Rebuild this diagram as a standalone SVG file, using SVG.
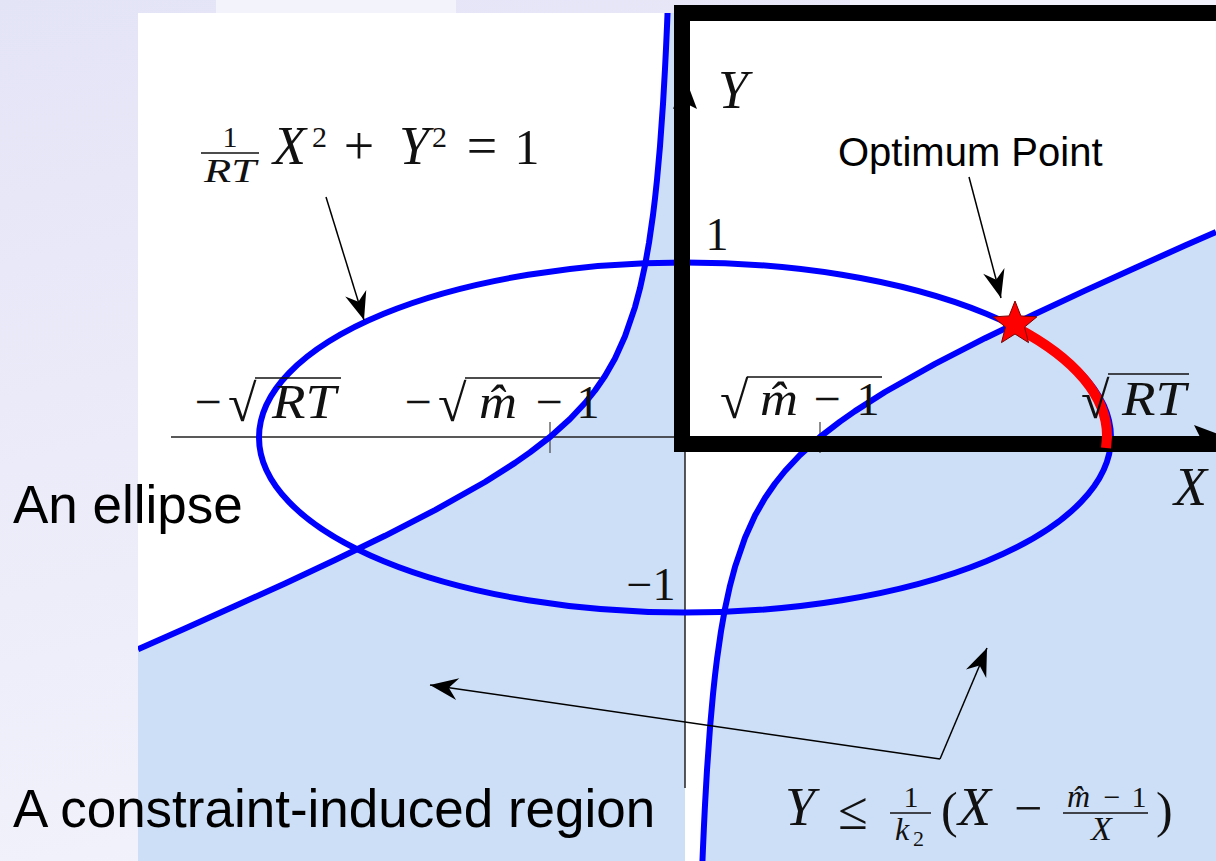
<svg xmlns="http://www.w3.org/2000/svg" width="1216" height="861" viewBox="0 0 1216 861">
<defs>
<linearGradient id="bg" x1="0" y1="0" x2="0.3" y2="1">
<stop offset="0" stop-color="#e4e4f7"/>
<stop offset="0.5" stop-color="#ebebf9"/>
<stop offset="1" stop-color="#f2f2fc"/>
</linearGradient>
<clipPath id="plot"><rect x="138" y="13" width="1078" height="848"/></clipPath>
<marker id="ah" markerUnits="userSpaceOnUse" viewBox="-30 -13 32 26" refX="0" refY="0" markerWidth="32" markerHeight="26" orient="auto">
<path d="M0,0 L-28,-11 L-19,0 L-28,11 Z" fill="#000"/>
</marker>
<marker id="axh" markerUnits="userSpaceOnUse" viewBox="-34 -14 36 28" refX="0" refY="0" markerWidth="36" markerHeight="28" orient="auto">
<path d="M0,0 L-32,-12 L-26,0 L-32,12 Z" fill="#000"/>
</marker>
</defs>
<style>
.m{font-family:"Liberation Serif","DejaVu Serif",serif;fill:#111}
.it{font-style:italic}
.sans{font-family:"Liberation Sans",Arial,sans-serif;fill:#000}
.curve{fill:none;stroke:#0000ff;stroke-width:6;stroke-linejoin:round}
.axis{stroke:#222;stroke-width:1.5;fill:none}
.tick{stroke:#444;stroke-width:1.2}
.bar{stroke:#111;stroke-width:1.5}
.conn{stroke:#000;stroke-width:1.5;fill:none;marker-end:url(#ah)}
.fill{fill:#cddff6}
</style>

<g id="background">
<rect x="0" y="0" width="1216" height="861" fill="url(#bg)"/>
<rect x="216" y="0" width="240" height="13" fill="#f3f3fc"/>
<rect x="850" y="0" width="366" height="13" fill="#f1f1fb"/>
<rect x="138" y="13" width="1078" height="848" fill="#ffffff"/>
</g>

<g id="region" clip-path="url(#plot)">
<path class="fill" d="M138,649.2 L185,628.4 L235,606.1 L285,583.4 L335,560 L385,535.8 L435,510.1 L485,482 L515,462.9 L530,452.4 L550,437 L570,419 L585,403 L595,390.5 L605,376 L615,358.4 L625,336.3 L635,307.1 L640,288.3 L645,265.4 L649,242.8 L653,215 L655,198.5 L657,179.7 L660,146.2 L663,104 L665,68.9 L666,48.7 L667,26.3 L667.6,11.6 L685,11.6 L685,862 L138,862 Z"/>
<path class="fill" d="M702.4,862.4 L703,847.7 L704,825.3 L705,805.1 L707,770 L710,727.8 L713,694.3 L715,675.5 L717,659 L721,631.2 L725,608.6 L730,585.7 L735,566.9 L745,537.7 L755,515.6 L765,498 L775,483.5 L785,471 L800,455 L820,437 L840,421.6 L855,411.1 L885,392 L935,363.9 L985,338.2 L1035,314 L1085,290.6 L1135,267.9 L1185,245.6 L1216,231.9 L1216,862 Z"/>
</g>

<g id="axes">
<line class="axis" x1="171" y1="437" x2="1226" y2="437" marker-end="url(#axh)"/>
<line class="axis" x1="685" y1="788" x2="685" y2="77" marker-end="url(#axh)"/>
<line class="tick" x1="550" y1="422" x2="550" y2="453"/>
<line class="tick" x1="820" y1="422" x2="820" y2="453"/>
<line class="tick" x1="669" y1="263" x2="702" y2="263"/>
<line class="tick" x1="669" y1="612" x2="702" y2="612"/>
</g>

<g id="ellipse">
<ellipse cx="685" cy="437.5" rx="426" ry="175" class="curve" stroke-width="6.5"/>
</g>

<g id="hyperbola" clip-path="url(#plot)">
<polyline class="curve" points="138,649.2 185,628.4 235,606.1 285,583.4 335,560 385,535.8 435,510.1 485,482 515,462.9 530,452.4 550,437 570,419 585,403 595,390.5 605,376 615,358.4 625,336.3 635,307.1 640,288.3 645,265.4 649,242.8 653,215 655,198.5 657,179.7 660,146.2 663,104 665,68.9 666,48.7 667,26.3 667.6,11.6"/>
<polyline class="curve" points="702.4,862.4 703,847.7 704,825.3 705,805.1 707,770 710,727.8 713,694.3 715,675.5 717,659 721,631.2 725,608.6 730,585.7 735,566.9 745,537.7 755,515.6 765,498 775,483.5 785,471 800,455 820,437 840,421.6 855,411.1 885,392 935,363.9 985,338.2 1035,314 1085,290.6 1135,267.9 1185,245.6 1216,231.9"/>
</g>

<g id="frame">
<rect x="682" y="13" width="560" height="431" fill="none" stroke="#000" stroke-width="16"/>
</g>

<g id="optimum-arc">
<path d="M1015,327 A426 175 0 0 1 1107,437 L1106,448" fill="none" stroke="#ff0000" stroke-width="10"/>
</g>

<g id="optimum-star">
<polygon points="1015,301 1020.88,315.91 1036.87,316.89 1024.51,327.09 1028.52,342.61 1015,334 1001.48,342.61 1005.49,327.09 993.13,316.89 1009.12,315.91" fill="#ff0000" stroke="#7a0000" stroke-width="1"/>
</g>

<g id="label-ellipse-eq">
<text class="m" x="230" y="147" font-size="30" text-anchor="middle">1</text>
<line class="bar" x1="201" y1="153" x2="259" y2="153"/>
<text class="m it" x="204" y="182" font-size="34" textLength="52" lengthAdjust="spacingAndGlyphs">RT</text>
<text class="m it" x="273" y="164" font-size="54">X</text>
<text class="m" x="312" y="147" font-size="30">2</text>
<text class="m" x="359" y="164" font-size="54" text-anchor="middle">+</text>
<text class="m it" x="399" y="164" font-size="54">Y</text>
<text class="m" x="432" y="147" font-size="30">2</text>
<text class="m" x="482" y="164" font-size="54" text-anchor="middle">=</text>
<text class="m" x="527" y="164" font-size="50" text-anchor="middle">1</text>
</g>

<g id="tick-neg-sqrtRT">
<text class="m" x="208" y="418" font-size="48" text-anchor="middle">−</text>
<text class="m" x="228" y="421" font-size="52">√</text>
<line class="bar" x1="255" y1="378" x2="341" y2="378"/>
<text class="m it" x="272" y="418" font-size="48" textLength="64" lengthAdjust="spacingAndGlyphs">RT</text>
</g>

<g id="tick-neg-sqrtm">
<text class="m" x="418" y="418" font-size="48" text-anchor="middle">−</text>
<text class="m" x="438" y="421" font-size="52">√</text>
<line class="bar" x1="465" y1="378" x2="600" y2="378"/>
<text class="m it" x="479" y="418" font-size="48" textLength="38" lengthAdjust="spacingAndGlyphs">m̂</text>
<text class="m" x="549" y="418" font-size="48" text-anchor="middle">−</text>
<text class="m" x="588" y="418" font-size="46" text-anchor="middle">1</text>
</g>

<g id="tick-sqrtm">
<text class="m" x="720" y="418" font-size="52">√</text>
<line class="bar" x1="747" y1="377" x2="882" y2="377"/>
<text class="m it" x="760" y="415" font-size="48" textLength="38" lengthAdjust="spacingAndGlyphs">m̂</text>
<text class="m" x="827" y="415" font-size="48" text-anchor="middle">−</text>
<text class="m" x="868" y="415" font-size="46" text-anchor="middle">1</text>
</g>

<g id="tick-sqrtRT">
<text class="m" x="1081" y="418" font-size="52">√</text>
<line class="bar" x1="1108" y1="374" x2="1189" y2="374"/>
<text class="m it" x="1122" y="415" font-size="48" textLength="64" lengthAdjust="spacingAndGlyphs">RT</text>
</g>

<g id="label-Y">
<text class="m it" x="718" y="108" font-size="54">Y</text>
</g>
<g id="label-one">
<text class="m" x="717" y="250" font-size="46" text-anchor="middle">1</text>
</g>
<g id="label-minus-one">
<text class="m" x="651" y="600" font-size="46" text-anchor="middle">−1</text>
</g>
<g id="label-X">
<text class="m it" x="1174" y="505" font-size="54">X</text>
</g>

<g id="label-optimum">
<text class="sans" x="838" y="166" font-size="40">Optimum Point</text>
</g>
<g id="label-an-ellipse">
<text class="sans" x="13" y="523" font-size="53">An ellipse</text>
</g>
<g id="label-region">
<text class="sans" x="13" y="827" font-size="53">A constraint-induced region</text>
</g>

<g id="label-constraint-eq">
<text class="m it" x="785" y="825" font-size="54">Y</text>
<text class="m" x="853" y="829" font-size="54" text-anchor="middle">≤</text>
<text class="m" x="911" y="807" font-size="30" text-anchor="middle">1</text>
<line class="bar" x1="890" y1="813" x2="931" y2="813"/>
<text class="m it" x="895" y="840" font-size="32">k</text>
<text class="m" x="913" y="846" font-size="22">2</text>
<text class="m" x="941" y="827" font-size="50">(</text>
<text class="m it" x="958" y="825" font-size="54">X</text>
<text class="m" x="1028" y="825" font-size="50" text-anchor="middle">−</text>
<text class="m it" x="1067" y="807" font-size="32">m̂</text>
<text class="m" x="1112" y="807" font-size="30" text-anchor="middle">−</text>
<text class="m" x="1139" y="807" font-size="30" text-anchor="middle">1</text>
<line class="bar" x1="1063" y1="813" x2="1148" y2="813"/>
<text class="m it" x="1091" y="840" font-size="34">X</text>
<text class="m" x="1156" y="827" font-size="50">)</text>
</g>

<g id="connectors">
<line class="conn" x1="326" y1="197" x2="364" y2="320"/>
<line class="conn" x1="969" y1="177" x2="1001" y2="298"/>
<line class="conn" x1="940" y1="759" x2="430" y2="685"/>
<line class="conn" x1="940" y1="759" x2="987" y2="648"/>
</g>
</svg>
